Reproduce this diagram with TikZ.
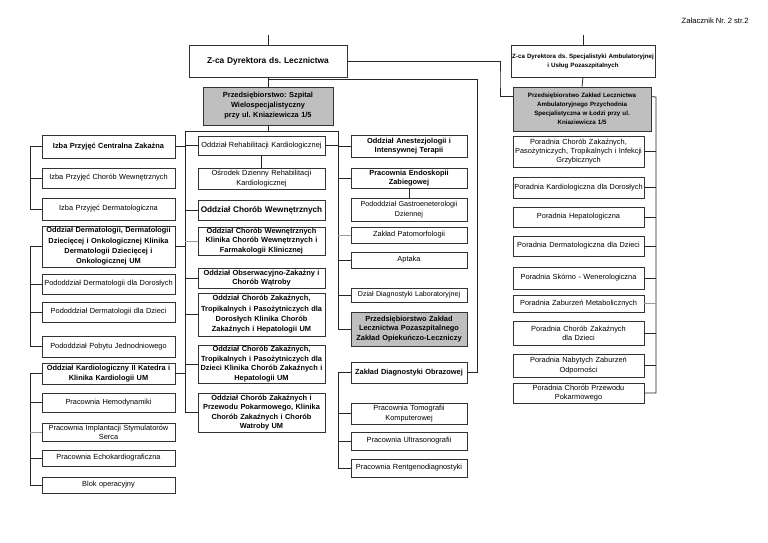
\documentclass[tikz,border=0pt]{standalone}
\usepackage{fontspec}
\setmainfont{Liberation Sans}
\usetikzlibrary{shadows,calc}
\frenchspacing
\begin{document}
\begin{tikzpicture}[x=1pt,y=-1pt,
  ln/.style={draw=black!85,line width=0.8pt},
  lg/.style={draw=black!40,line width=0.8pt},
  bx/.style={draw=black!80,line width=0.7pt,fill=white,inner sep=0pt,align=center,
    font={\fontsize{7.4}{9.6}\selectfont},
    drop shadow={shadow xshift=0.9pt,shadow yshift=-0.9pt,fill=black!70,opacity=1}},
  bb/.style={bx,font={\fontsize{7.4}{9.6}\selectfont\bfseries}},
  grey/.style={fill=black!25},
  cL/.style={minimum width=133,text width=131},
  cM/.style={minimum width=127,text width=125},
  cN/.style={minimum width=116,text width=114},
  cP/.style={minimum width=131,text width=129}]
\fill[white] (0,0) rectangle (768,543);
\useasboundingbox (0,0) rectangle (768,543);

\node[anchor=east,font={\fontsize{7.6}{9}\selectfont}] (title) at (752,21) {Załacznik Nr. 2 str.2};

% top level
\node[bb,minimum width=158,minimum height=32,text width=156,font={\fontsize{8.4}{10}\selectfont\bfseries}] (A) at (268,61) {Z-ca Dyrektora ds. Lecznictwa};
\node[bb,minimum width=144,minimum height=32,text width=142,font={\fontsize{6.2}{9}\selectfont\bfseries}] (B) at (583,61) {Z-ca Dyrektora ds. Specjalistyki Ambulatoryjnej\\i Usług Pozaszpitalnych};
\node[bb,grey,minimum width=130,minimum height=38,text width=128,font={\fontsize{7.4}{10}\selectfont\bfseries}] (C) at (268,106) {Przedsiębiorstwo: Szpital\\Wielospecjalistyczny\\przy ul. Kniaziewicza 1/5};
\node[bb,grey,minimum width=138,minimum height=44,text width=136,font={\fontsize{6.2}{9.2}\selectfont\bfseries}] (D) at (582,109) {Przedsiębiorstwo Zakład Lecznictwa\\Ambulatoryjnego Przychodnia\\Specjalistyczna w Łodzi przy ul.\\Kniaziewicza 1/5};

% column L
\node[bb,cL,minimum height=23] (L1) at (108.5,146.5) {Izba Przyjęć Centralna Zakażna};
\node[bx,cL,minimum height=20] (L2) at (108.5,178) {Izba Przyjęć Chorób Wewnętrznych};
\node[bx,cL,minimum height=22] (L3) at (108.5,209) {Izba Przyjęć Dermatologiczna};
\node[bb,cL,minimum height=41,font={\fontsize{7.4}{10.4}\selectfont\bfseries}] (L4) at (108.5,246.5) {Oddział Dermatologii, Dermatologii\\Dziecięcej i Onkologicznej Klinika\\Dermatologii Dziecięcej i\\Onkologicznej UM};
\node[bx,cL,minimum height=20] (L5) at (108.5,284) {Pododdział Dermatologii dla Dorosłych};
\node[bx,cL,minimum height=20] (L6) at (108.5,312) {Pododdział Dermatologii dla Dzieci};
\node[bx,cL,minimum height=21] (L7) at (108.5,346.5) {Pododdział Pobytu Jednodniowego};
\node[bb,cL,minimum height=21,font={\fontsize{7.4}{9.4}\selectfont\bfseries}] (L8) at (108.5,373.5) {Oddział Kardiologiczny II Katedra i\\Klinika Kardiologii UM};
\node[bx,cL,minimum height=19] (L9) at (108.5,402.5) {Pracownia Hemodynamiki};
\node[bx,cL,minimum height=18,font={\fontsize{7.4}{9.2}\selectfont}] (L10) at (108.5,432) {Pracownia Implantacji Stymulatorów\\Serca};
\node[bx,cL,minimum height=16] (L11) at (108.5,458) {Pracownia Echokardiograficzna};
\node[bx,cL,minimum height=16] (L12) at (108.5,485) {Blok operacyjny};

% column M
\node[bx,cM,minimum height=19] (M1) at (261.5,145.5) {Oddział Rehabilitacji Kardiologicznej};
\node[bx,cM,minimum height=21,font={\fontsize{7.4}{9.2}\selectfont}] (M2) at (261.5,178.5) {Ośrodek Dzienny Rehabilitacji\\Kardiologicznej};
\node[bb,cM,minimum height=20,font={\fontsize{8.2}{10}\selectfont\bfseries}] (M3) at (261.5,210) {Oddział Chorób Wewnętrznych};
\node[bb,cM,minimum height=28,font={\fontsize{7.4}{9.2}\selectfont\bfseries}] (M4) at (261.5,241) {Oddział Chorób Wewnętrznych\\Klinika Chorób Wewnętrznych i\\Farmakologii Klinicznej};
\node[bb,cM,minimum height=20,font={\fontsize{7.4}{9.2}\selectfont\bfseries}] (M5) at (261.5,278) {Oddział Obserwacyjno-Zakażny i\\Chorób Wątroby};
\node[bb,cM,minimum height=43,font={\fontsize{7.4}{10.3}\selectfont\bfseries}] (M6) at (261.5,314.5) {Oddział Chorób Zakaźnych,\\Tropikalnych i Pasożytniczych dla\\Dorosłych Klinika Chorób\\Zakaźnych i Hepatologii UM};
\node[bb,cM,minimum height=38,font={\fontsize{7.4}{9.6}\selectfont\bfseries}] (M7) at (261.5,364) {Oddział Chorób Zakaźnych,\\Tropikalnych i Pasożytniczych dla\\Dzieci Klinika Chorób Zakaźnych i\\Hepatologii UM};
\node[bb,cM,minimum height=39,font={\fontsize{7.4}{9.6}\selectfont\bfseries}] (M8) at (261.5,412.5) {Oddział Chorób Zakaźnych i\\Przewodu Pokarmowego, Klinika\\Chorób Zakaźnych i Chorób\\Watroby UM};

% column N
\node[bb,cN,minimum height=22,font={\fontsize{7.4}{9.4}\selectfont\bfseries}] (N1) at (409,146) {Oddział Anestezjologii i\\Intensywnej Terapii};
\node[bb,cN,minimum height=20,font={\fontsize{7.4}{9.4}\selectfont\bfseries}] (N2) at (409,178) {Pracownia Endoskopii\\Zabiegowej};
\node[bx,cN,minimum height=23,font={\fontsize{7.2}{9.4}\selectfont}] (N3) at (409,209.5) {Pododdział Gastroeneterologii\\Dziennej};
\node[bx,cN,minimum height=16] (N4) at (409,235) {Zakład Patomorfologii};
\node[bx,cN,minimum height=16] (N5) at (409,260) {Aptaka};
\node[bx,cN,minimum height=14,font={\fontsize{7.1}{9}\selectfont}] (N6) at (409,295) {Dział Diagnostyki Laboratoryjnej};
\node[bb,grey,cN,minimum height=34,font={\fontsize{7.4}{9.8}\selectfont\bfseries}] (N7) at (409,329) {Przedsiębiorstwo Zakład\\Lecznictwa Pozaszpitalnego\\Zakład Opiekuńczo-Leczniczy};
\node[bb,cN,minimum height=21] (N8) at (409,372.5) {Zakład Diagnostyki Obrazowej};
\node[bx,cN,minimum height=21,font={\fontsize{7.4}{9.2}\selectfont}] (N9) at (409,413.5) {Pracownia Tomografii\\Komputerowej};
\node[bx,cN,minimum height=18] (N10) at (409,441) {Pracownia Ultrasonografii};
\node[bx,cN,minimum height=18] (N11) at (409,468) {Pracownia Rentgenodiagnostyki};

% column P
\node[bx,cP,minimum height=31,font={\fontsize{7.4}{9.2}\selectfont}] (P1) at (578.5,151.5) {Poradnia Chorób Zakaźnych,\\Pasożytniczych, Tropikalnych i Infekcji\\Grzybicznych};
\node[bx,cP,minimum height=21] (P2) at (578.5,187.5) {Poradnia Kardiologiczna dla Dorosłych};
\node[bx,cP,minimum height=20] (P3) at (578.5,217) {Poradnia Hepatologiczna};
\node[bx,cP,minimum height=20] (P4) at (578.5,246) {Poradnia Dermatologiczna dla Dzieci};
\node[bx,cP,minimum height=22] (P5) at (578.5,278) {Poradnia Skórno - Wenerologiczna};
\node[bx,cP,minimum height=17] (P6) at (578.5,303.5) {Poradnia Zaburzeń Metabolicznych};
\node[bx,cP,minimum height=24,font={\fontsize{7.4}{9.2}\selectfont}] (P7) at (578.5,333) {Poradnia Chorób Zakaźnych\\dla Dzieci};
\node[bx,cP,minimum height=23,font={\fontsize{7.4}{9.2}\selectfont}] (P8) at (578.5,365.5) {Poradnia Nabytych Zaburzeń\\Odporności};
\node[bx,cP,minimum height=20,font={\fontsize{7.4}{9}\selectfont}] (P9) at (578.5,393) {Poradnia Chorób Przewodu\\Pokarmowego};

% coordinates
\coordinate (topA) at (268,35);
\coordinate (topB) at (583,35);
\coordinate (jA) at (268,79);
\coordinate (busA) at (30,0);
\coordinate (hb) at (185,131);
\coordinate (hc) at (338,131);
\coordinate (hC) at (268,131);
\coordinate (busR) at (477,79);
\coordinate (jD) at (500,80);
\coordinate (busP) at (656,97);

% top connectors
\draw[ln] (topA) -- (A.north);
\draw[ln] (topB) -- (B.north);
\draw[ln] (A.south) -- (C.north);
\draw[ln] (B.south) -- (D.north);
\draw[ln] (jA) -- (busR) -- (busR |- N8.east) -- (N8.east);
\draw[ln] (A.east) -| (jD) |- ($(D.north west)+(0,10)$);
\draw[ln] ($(D.north east)+(0,10)$) -- (busP) -- (busP |- P9.east) -- (P9.east);
\draw[ln] (C.south) -- (hC);
\draw[ln] (hb) -- (hc);

% column L brackets
\draw[ln] (L1.west -| busA) -- (L3.west -| busA);
\foreach \n in {L1,L2,L3} \draw[ln] (\n.west) -- (\n.west -| busA);
\draw[ln] (L4.west -| busA) -- (L7.west -| busA);
\foreach \n in {L4,L5,L6,L7} \draw[ln] (\n.west) -- (\n.west -| busA);
\draw[ln] (L8.west -| busA) -- (L12.west -| busA);
\foreach \n in {L8,L9,L11,L12} \draw[ln] (\n.west) -- (\n.west -| busA);
\draw[lg] (L10.west) -- (L10.west -| busA);

% bus B (x=185)
\draw[ln] (hb) -- (hb |- M8.west) -- (M8.west);
\foreach \n in {L1,L4,L8} \draw[ln] (\n.east) -- (\n.east -| hb);
\foreach \n in {M1,M3,M5,M6,M7} \draw[ln] (\n.west) -- (\n.west -| hb);
\draw[lg] (M4.west) -- (M4.west -| hb);
\draw[ln] (M1.south) -- (M2.north);

% bus C (x=338)
\draw[ln] (hc) -- (hc |- N7.west) -- (N7.west);
\draw[ln] (M1.east) -- (M1.east -| hc);
\foreach \n in {N1,N2,N5,N6} \draw[ln] (\n.west) -- (\n.west -| hc);
\draw[lg] (N4.west) -- (N4.west -| hc);
\draw[ln] (N2.south) -- (N3.north);
\draw[ln] (N8.west -| hc) -- (N11.west -| hc);
\foreach \n in {N8,N9,N10,N11} \draw[ln] (\n.west) -- (\n.west -| hc);

% bus P
\foreach \n in {P1,P2,P3,P4,P5,P7,P8} \draw[ln] (\n.east) -- (\n.east -| busP);
\draw[lg] (P6.east) -- (P6.east -| busP);
\end{tikzpicture}
\end{document}
